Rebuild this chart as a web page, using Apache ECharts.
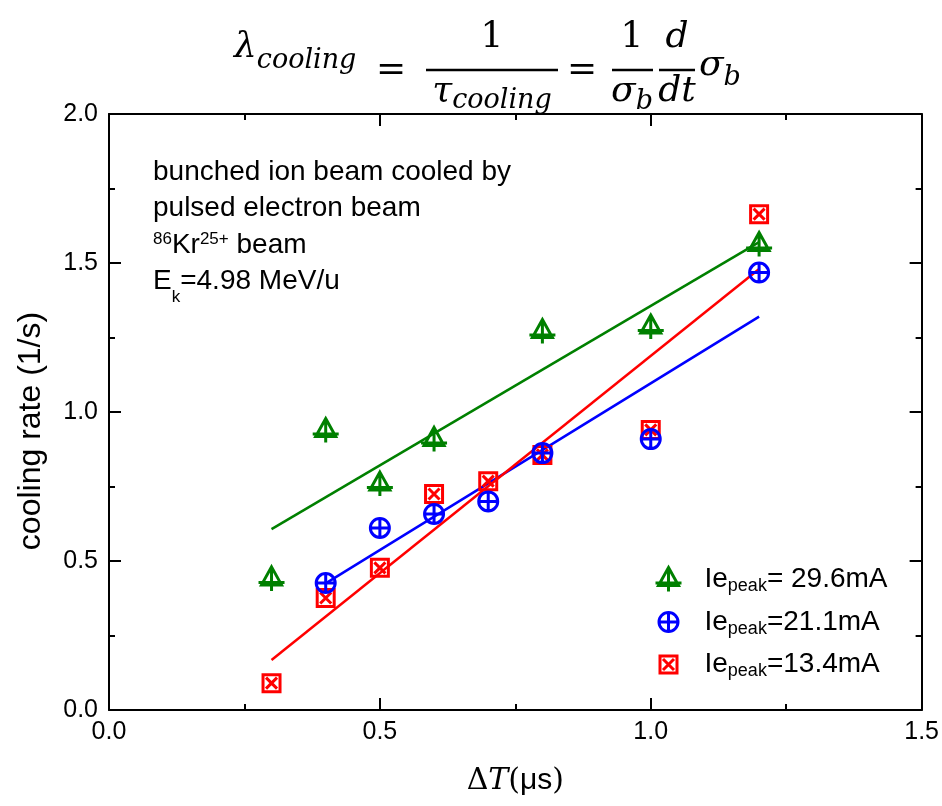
<!DOCTYPE html>
<html><head><meta charset="utf-8">
<script src="https://cdn.jsdelivr.net/npm/echarts@6/dist/echarts.min.js"></script>
<style>html,body{margin:0;padding:0;background:#fff}#c{width:942px;height:806px}</style>
</head><body><div id="c"></div>
<script>
// ---- data ----
const xTicks = ['0.0','0.5','1.0','1.5'];
const yTicks = ['0.0','0.5','1.0','1.5','2.0'];
const legendNames = ['Ie_peak= 29.6mA','Ie_peak=21.1mA','Ie_peak=13.4mA'];
const greenX = [0.3,0.4,0.5,0.6,0.8,1.0,1.2];
const greenY = [0.44,0.938,0.758,0.908,1.27,1.285,1.562];
const blueX = [0.4,0.5,0.6,0.7,0.8,1.0,1.2];
const blueY = [0.426,0.611,0.658,0.70,0.862,0.909,1.468];
const redX = [0.3,0.4,0.5,0.6,0.7,0.8,1.0,1.2];
const redY = [0.09,0.376,0.477,0.725,0.768,0.856,0.94,1.664];
const greenFitX = [0.3,1.2], greenFitY = [0.607,1.57];
const blueFitX = [0.4,1.2], blueFitY = [0.425,1.32];
const redFitX = [0.3,1.2], redFitY = [0.168,1.48];

const GREEN = '#008000', BLUE = '#0000ff', RED = '#ff0000';
const SERIF = 'DejaVu Serif', SANS = 'Liberation Sans';

const triPath = 'path://M0 -1 M26 25 M13 0 L23 18 L3 18 Z M0 15.5 L26 15.5 M13 0 L13 24';
const cirPath = 'path://M0 0 M26 26 M3.5 13 A9.5 9.5 0 1 1 22.5 13 A9.5 9.5 0 1 1 3.5 13 Z M13 3.5 L13 22.5 M3.5 13 L22.5 13';
const sqPath = 'path://M0 0 M26 26 M4.5 4.5 L21.5 4.5 L21.5 21.5 L4.5 21.5 Z M7.5 7.5 L18.5 18.5 M18.5 7.5 L7.5 18.5';

function zip(a,b){ return a.map((v,i)=>[v,b[i]]); }

// ---- text layout helpers ----
const mctx = document.createElement('canvas').getContext('2d');
function fontStr(size, fam, style){ return (style||'normal') + ' ' + size + 'px "' + fam + '"'; }
function tw(t,size,fam,style){ mctx.font = fontStr(size,fam,style); return mctx.measureText(t).width; }
const G = [];
function put(t, x, base, size, fam, style){
  G.push({type:'text', silent:true, style:{text:t, x:x, y:base - 0.35*size, fontSize:size, fontFamily:fam,
    fontStyle:style||'normal', fill:'#000', align:'left', verticalAlign:'middle'}});
  return x + tw(t,size,fam,style);
}
function runW(p){ return p.reduce((s,q)=>s+tw(q[0],q[1],q[2],q[3]),0); }
function run(p, x, base){ p.forEach(q=>{ x = put(q[0], x, base + (q[4]||0), q[1], q[2], q[3]); }); return x; }
function runC(p, cx, base){ return run(p, cx - runW(p)/2, base); }
function bar(x1,x2,y){ G.push({type:'line', silent:true, shape:{x1:x1,y1:y,x2:x2,y2:y}, style:{stroke:'#000', lineWidth:2.5}}); }

// title formula
const M = 36, S = 27;
run([['λ',M,SERIF,'italic'],['cooling',S,SERIF,'italic',10]], 234, 60);
runC([['=',M,SERIF]], 391, 83);
bar(426,558,70);
runC([['1',M,SERIF]], 492, 50);
runC([['τ',M,SERIF,'italic'],['cooling',S,SERIF,'italic',6]], 492, 104);
runC([['=',M,SERIF]], 582, 83);
bar(612,653,70);
runC([['1',M,SERIF]], 632, 50);
runC([['σ',M,SERIF,'italic'],['b',S,SERIF,'italic',7]], 632, 104);
bar(659,695,70);
runC([['d',M,SERIF,'italic']], 677, 50);
runC([['dt',M,SERIF,'italic']], 677, 104);
run([['σ',M,SERIF,'italic'],['b',S,SERIF,'italic',9]], 699, 78);

// annotation
const A = 28;
put('bunched ion beam cooled by', 153, 182, A, SANS);
put('pulsed electron beam', 153, 218, A, SANS);
run([['86',17,SANS,'normal',-10],['Kr',A,SANS],['25+',17,SANS,'normal',-10],[' beam',A,SANS]], 153, 255);
run([['E',A,SANS],['k',17,SANS,'normal',12],['=4.98 MeV/u',A,SANS]], 153, 291);

const axLine = {show:true, onZero:false, lineStyle:{color:'#000', width:2}};
const axTick = {show:true, inside:true, length:12, lineStyle:{color:'#000', width:2}};
const mnTick = {show:true, splitNumber:2, length:6, lineStyle:{color:'#000', width:2}};
const lblStyle = {fontSize:25, color:'#000', fontFamily:SANS};
const mk = c => ({color:'rgba(0,0,0,0)', borderColor:c, borderWidth:3, opacity:1});

const chart = echarts.init(document.getElementById('c'), null, {renderer:'canvas'});
chart.setOption({
  backgroundColor:'#fff',
  animation:false,
  grid:{left:109, right:20, top:114, bottom:96, containLabel:false},
  xAxis:[
    {type:'value', min:0, max:1.5, interval:0.5, position:'bottom',
     axisLine:axLine, axisTick:axTick, minorTick:mnTick, splitLine:{show:false},
     axisLabel:Object.assign({margin:10, formatter:v=>xTicks[Math.round(v/0.5)]}, lblStyle),
     name:'{d|Δ}{t|T}{p|(}{u|μs}{p|)}', nameLocation:'middle', nameGap:56,
     nameTextStyle:{rich:{
       d:{fontFamily:SERIF, fontSize:30, color:'#000'},
       t:{fontFamily:SERIF, fontStyle:'italic', fontSize:30, color:'#000'},
       p:{fontFamily:SERIF, fontSize:30, color:'#000'},
       u:{fontFamily:SANS, fontSize:30, color:'#000'}}}},
    {type:'value', min:0, max:1.5, interval:0.5, position:'top',
     axisLine:axLine, axisTick:axTick, minorTick:mnTick, splitLine:{show:false}, axisLabel:{show:false}}
  ],
  yAxis:[
    {type:'value', min:0, max:2, interval:0.5, position:'left',
     axisLine:axLine, axisTick:axTick, minorTick:mnTick, splitLine:{show:false},
     axisLabel:Object.assign({margin:11, formatter:v=>yTicks[Math.round(v/0.5)]}, lblStyle),
     name:'cooling rate (1/s)', nameLocation:'middle', nameRotate:90, nameGap:62,
     nameTextStyle:{fontFamily:SANS, fontSize:32, color:'#000', padding:[0,38,0,0]}},
    {type:'value', min:0, max:2, interval:0.5, position:'right',
     axisLine:axLine, axisTick:axTick, minorTick:mnTick, splitLine:{show:false}, axisLabel:{show:false}}
  ],
  legend:{
    orient:'vertical', left:649, top:560, itemWidth:26, itemHeight:26, itemGap:12, selectedMode:false,
    data:[
      {name:legendNames[0], icon:triPath, itemStyle:mk(GREEN)},
      {name:legendNames[1], icon:cirPath, itemStyle:mk(BLUE)},
      {name:legendNames[2], icon:sqPath, itemStyle:mk(RED)}
    ],
    formatter:n=>{ const parts = n.split('_peak'); return '{a|'+parts[0]+'}{s|peak}{a|'+parts[1]+'}'; },
    textStyle:{fontFamily:SANS, fontSize:28, color:'#000', padding:[0,0,0,18],
      rich:{a:{fontFamily:SANS, fontSize:28, lineHeight:32, color:'#000'},
            s:{fontFamily:SANS, fontSize:18, lineHeight:10, verticalAlign:'bottom', color:'#000'}}}
  },
  series:[
    {type:'line', name:'fitGreen', data:zip(greenFitX,greenFitY), symbol:'none', silent:true, z:2,
     lineStyle:{color:GREEN, width:2.5}},
    {type:'line', name:'fitBlue', data:zip(blueFitX,blueFitY), symbol:'none', silent:true, z:2,
     lineStyle:{color:BLUE, width:2.5}},
    {type:'line', name:'fitRed', data:zip(redFitX,redFitY), symbol:'none', silent:true, z:2,
     lineStyle:{color:RED, width:2.5}},
    {type:'scatter', name:legendNames[2], data:zip(redX,redY), symbol:sqPath, symbolSize:26, z:3,
     itemStyle:mk(RED), emphasis:{disabled:true}},
    {type:'scatter', name:legendNames[1], data:zip(blueX,blueY), symbol:cirPath, symbolSize:26, z:4,
     itemStyle:mk(BLUE), emphasis:{disabled:true}},
    {type:'scatter', name:legendNames[0], data:zip(greenX,greenY), symbol:triPath, symbolSize:26, z:5,
     itemStyle:mk(GREEN), emphasis:{disabled:true}}
  ],
  graphic:G
});
</script></body></html>
